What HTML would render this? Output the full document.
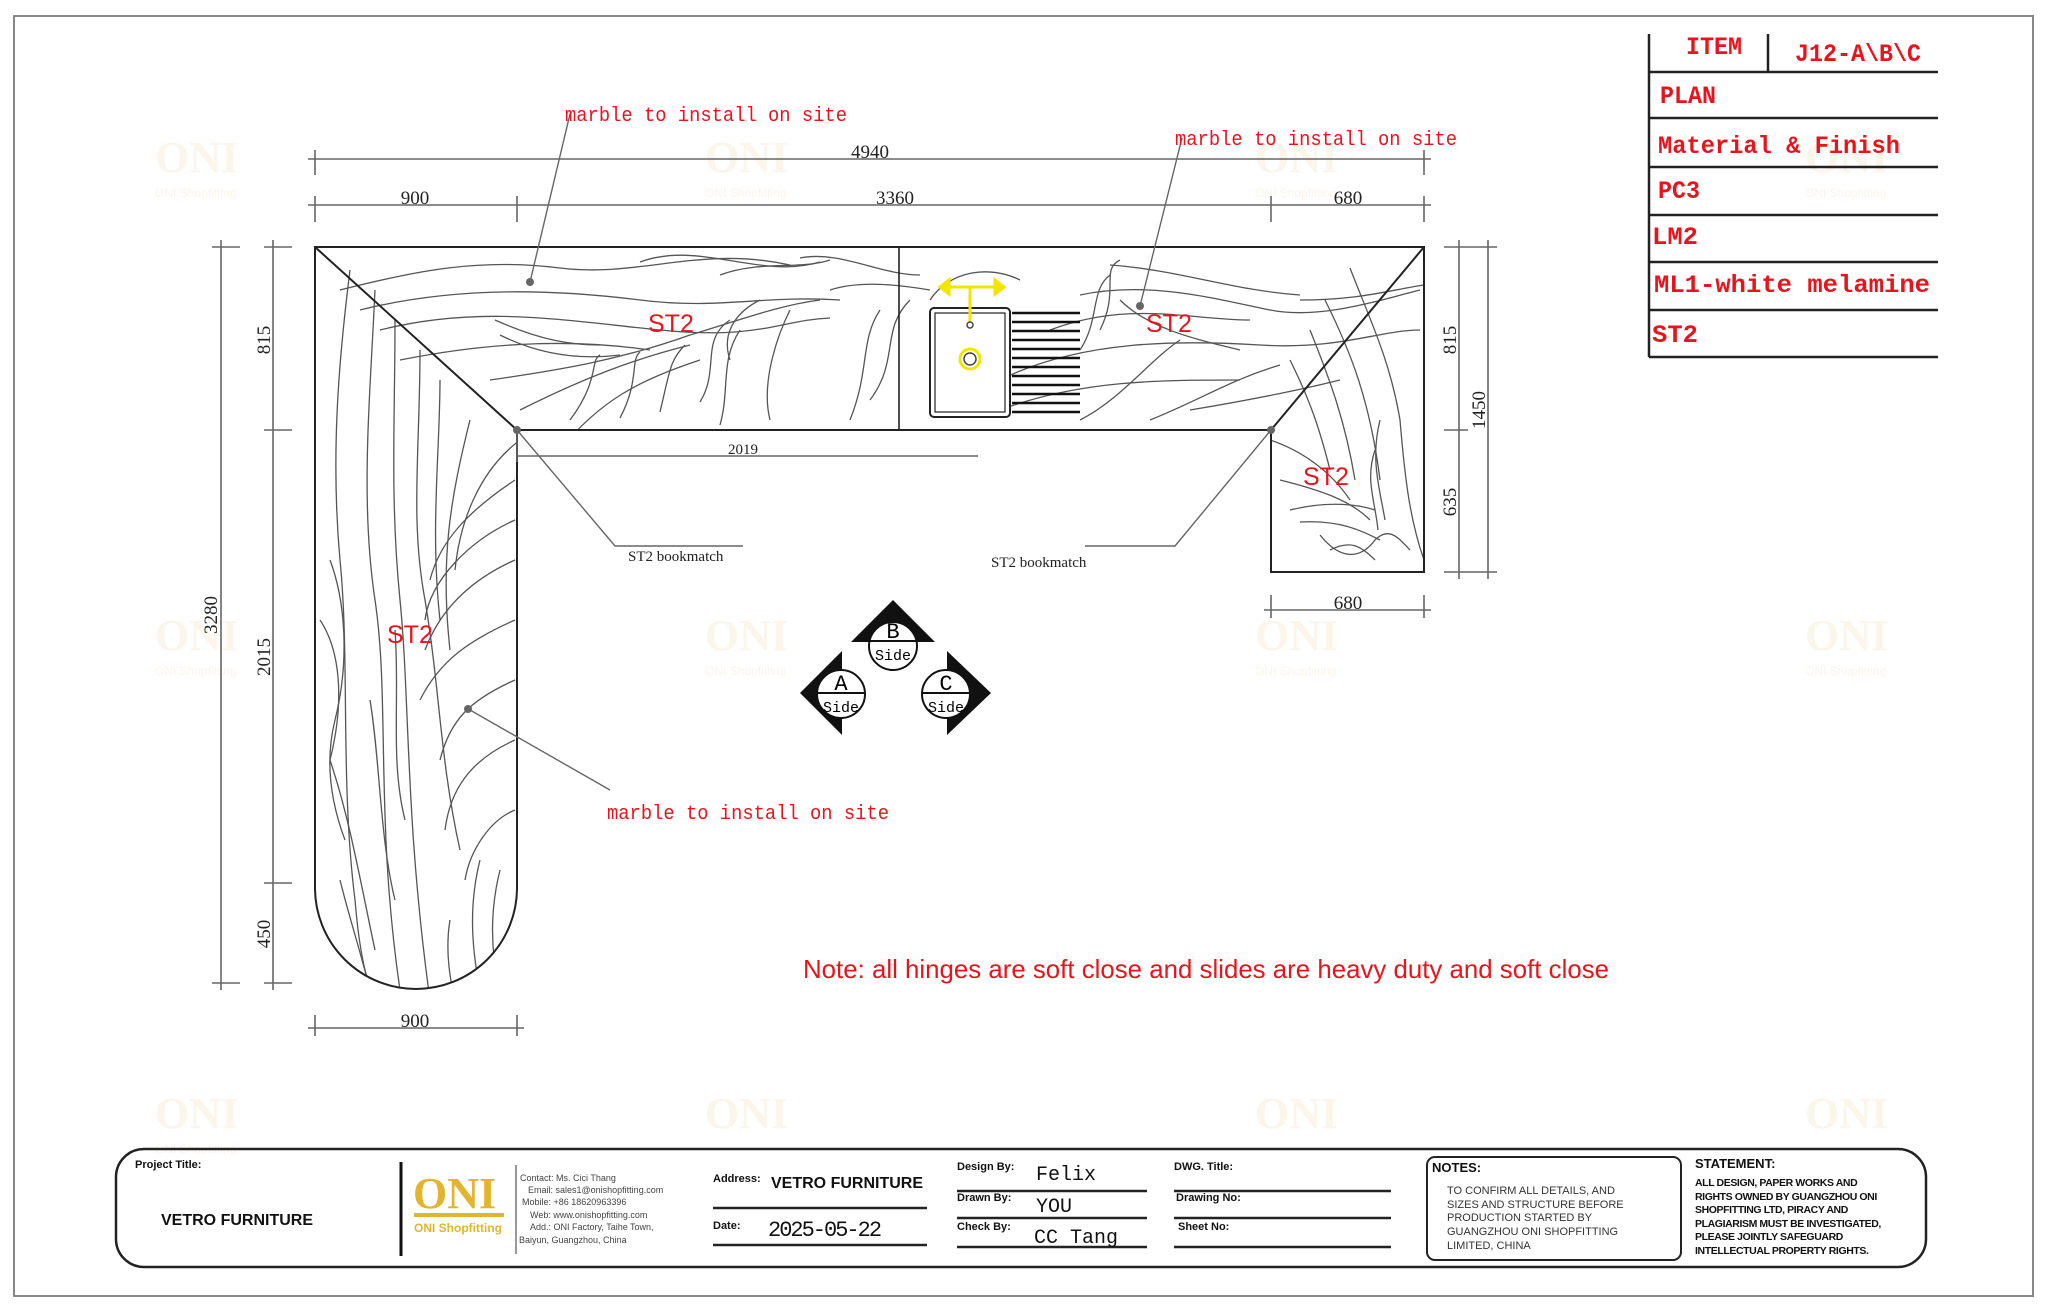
<!DOCTYPE html>
<html><head><meta charset="utf-8"><style>
html,body{margin:0;padding:0;background:#fff}
svg{display:block}
.d{font-family:"Liberation Serif",serif;font-size:19px;fill:#222}
.r{font-family:"Liberation Mono",monospace;fill:#e8141c}
.g{fill:none;stroke:#555;stroke-width:1.3}
.dl{stroke:#666;stroke-width:1.6;fill:none}
.wm{font-family:"Liberation Serif",serif;font-size:44px;font-weight:bold;fill:#fbf5ea}
.ws{font-family:"Liberation Sans",sans-serif;font-size:12px;fill:#fbf5ea}
.b{font-family:"Liberation Sans",sans-serif;font-weight:bold;fill:#111}
</style></head><body>
<svg width="2048" height="1311" viewBox="0 0 2048 1311" xmlns="http://www.w3.org/2000/svg">
<rect x="14" y="16" width="2019" height="1280" fill="none" stroke="#888" stroke-width="2"/>
<g>
<text class="wm" x="155" y="172">ONI</text><text class="ws" x="155" y="197">ONI Shopfitting</text>
<text class="wm" x="705" y="172">ONI</text><text class="ws" x="705" y="197">ONI Shopfitting</text>
<text class="wm" x="1255" y="172">ONI</text><text class="ws" x="1255" y="197">ONI Shopfitting</text>
<text class="wm" x="1805" y="172">ONI</text><text class="ws" x="1805" y="197">ONI Shopfitting</text>
<text class="wm" x="155" y="650">ONI</text><text class="ws" x="155" y="675">ONI Shopfitting</text>
<text class="wm" x="705" y="650">ONI</text><text class="ws" x="705" y="675">ONI Shopfitting</text>
<text class="wm" x="1255" y="650">ONI</text><text class="ws" x="1255" y="675">ONI Shopfitting</text>
<text class="wm" x="1805" y="650">ONI</text><text class="ws" x="1805" y="675">ONI Shopfitting</text>
<text class="wm" x="155" y="1128">ONI</text><text class="ws" x="155" y="1153">ONI Shopfitting</text>
<text class="wm" x="705" y="1128">ONI</text>
<text class="wm" x="1255" y="1128">ONI</text>
<text class="wm" x="1805" y="1128">ONI</text>
</g>
<defs>
<clipPath id="cp"><path d="M315,247 H1424 V572 H1271 V430 H517 V888 A101,101 0 0 1 315,888 Z"/></clipPath>
</defs>
<g clip-path="url(#cp)" class="g">
<path d="M340,290 C420,270 480,258 560,268 S700,245 790,265"/>
<path d="M360,310 C460,285 560,290 640,300 S760,295 840,300"/>
<path d="M380,330 C480,305 560,320 660,330 S780,320 830,318"/>
<path d="M400,360 C500,340 580,340 650,350"/>
<path d="M490,380 C560,370 620,360 690,335 C740,320 780,305 820,300"/>
<path d="M495,320 C540,340 570,345 600,345"/>
<path d="M500,335 C540,355 580,360 620,355"/>
<path d="M520,410 C580,380 630,360 690,345"/>
<path d="M560,450 C600,400 640,380 700,360"/>
<path d="M570,420 C600,380 590,360 600,355"/>
<path d="M620,418 C640,380 630,360 640,352"/>
<path d="M660,412 C670,370 670,360 685,345"/>
<path d="M800,258 C840,250 880,275 920,275"/>
<path d="M830,290 C860,280 900,285 930,290"/>
<path d="M850,420 C870,370 860,340 880,310"/>
<path d="M640,262 C700,240 760,280 820,262"/>
<path d="M720,275 C760,260 800,270 830,260"/>
<path d="M770,420 C760,380 780,330 790,310"/>
<path d="M720,425 C730,390 720,360 740,330"/>
<path d="M700,402 C720,370 700,340 730,320"/>
<path d="M730,360 C720,330 740,310 760,300"/>
<path d="M870,400 C900,360 880,330 910,300"/>
<path d="M1110,265 C1180,270 1230,290 1300,295"/>
<path d="M1080,295 C1150,280 1220,300 1270,310 S1380,300 1420,290"/>
<path d="M1050,330 C1130,300 1190,320 1250,320"/>
<path d="M1000,380 C1080,340 1180,340 1260,345 S1380,330 1420,330"/>
<path d="M1000,410 C1080,380 1160,380 1240,380"/>
<path d="M930,300 C950,270 990,265 1020,280"/>
<path d="M1080,420 C1120,400 1150,360 1180,340"/>
<path d="M1120,300 C1150,330 1200,340 1240,350"/>
<path d="M1100,330 C1120,290 1100,270 1120,260"/>
<path d="M1080,350 C1100,320 1090,290 1110,275"/>
<path d="M1150,420 C1200,400 1230,380 1280,365"/>
<path d="M1190,410 C1250,400 1300,390 1340,380"/>
<path d="M1300,300 C1360,300 1390,290 1424,285"/>
<path d="M1350,268 C1370,320 1390,360 1400,420 C1405,480 1410,520 1424,560"/>
<path d="M1325,300 C1350,350 1370,400 1380,480"/>
<path d="M1310,330 C1330,380 1345,420 1355,480"/>
<path d="M1290,360 C1310,400 1320,430 1330,470"/>
<path d="M1380,420 C1370,460 1380,490 1385,520"/>
<path d="M1375,450 C1365,480 1375,500 1378,530"/>
<path d="M1270,440 C1300,450 1330,470 1350,500"/>
<path d="M1280,480 C1320,490 1350,500 1370,520"/>
<path d="M1290,510 C1330,500 1360,505 1375,510"/>
<path d="M1300,522 C1340,520 1360,530 1380,540 M1320,535 C1340,560 1360,560 1375,540 C1390,525 1400,540 1410,550"/>
<path d="M1330,550 C1350,540 1360,545 1375,560"/>
<path d="M350,270 C340,350 330,450 340,560 C350,660 340,780 355,900 C360,960 370,1000 380,1000"/>
<path d="M375,290 C370,400 360,500 375,600 C390,700 375,820 400,990"/>
<path d="M395,320 C395,420 390,500 400,600 C410,700 405,820 430,1000"/>
<path d="M420,350 C420,450 410,520 425,600 C440,690 440,760 460,850"/>
<path d="M440,380 C440,450 430,530 440,620"/>
<path d="M470,420 C450,500 440,560 450,650"/>
<path d="M330,560 C345,600 350,660 335,720 C325,760 330,800 345,840"/>
<path d="M520,440 C480,470 460,520 455,570"/>
<path d="M515,480 C470,510 440,540 430,580"/>
<path d="M515,520 C470,540 430,580 425,620"/>
<path d="M515,560 C470,580 440,610 425,650"/>
<path d="M515,620 C470,640 440,660 420,700"/>
<path d="M515,680 C470,700 450,720 440,760"/>
<path d="M515,740 C470,760 450,790 445,830"/>
<path d="M515,810 C490,820 470,850 465,880"/>
<path d="M320,620 C340,650 345,700 330,760"/>
<path d="M395,630 C400,700 390,760 405,820"/>
<path d="M370,700 C380,760 380,840 395,900"/>
<path d="M330,760 C350,820 360,880 375,950"/>
<path d="M480,860 C470,900 470,940 480,990"/>
<path d="M500,870 C490,910 490,950 500,990"/>
<path d="M450,920 C445,950 450,980 455,1000"/>
<path d="M340,880 C350,920 360,950 370,990"/>
</g>
<path d="M315,247 H1424 V572 H1271 V430 H517 V888 A101,101 0 0 1 315,888 Z" fill="none" stroke="#222" stroke-width="2"/>
<line x1="315" y1="247" x2="517" y2="430" stroke="#222" stroke-width="2"/>
<line x1="1424" y1="247" x2="1271" y2="430" stroke="#222" stroke-width="2"/>
<line x1="899" y1="247" x2="899" y2="430" stroke="#222" stroke-width="1.6"/>
<rect x="930" y="308" width="80" height="109" rx="4" fill="#fff" stroke="#222" stroke-width="2"/>
<rect x="935" y="313" width="70" height="99" fill="none" stroke="#222" stroke-width="1.2"/>
<g stroke="#111" stroke-width="2.4">
<line x1="1012" y1="313" x2="1080" y2="313"/><line x1="1012" y1="322" x2="1080" y2="322"/><line x1="1012" y1="331" x2="1080" y2="331"/><line x1="1012" y1="340" x2="1080" y2="340"/><line x1="1012" y1="349" x2="1080" y2="349"/><line x1="1012" y1="358" x2="1080" y2="358"/><line x1="1012" y1="367" x2="1080" y2="367"/><line x1="1012" y1="376" x2="1080" y2="376"/><line x1="1012" y1="385" x2="1080" y2="385"/><line x1="1012" y1="394" x2="1080" y2="394"/><line x1="1012" y1="403" x2="1080" y2="403"/><line x1="1012" y1="412" x2="1080" y2="412"/>
</g>
<g stroke="#f2e600" stroke-width="3" fill="none">
<line x1="947" y1="287" x2="997" y2="287"/><line x1="970" y1="287" x2="970" y2="322"/>
<path d="M940,287 l9,-7 v14 z M1004,287 l-9,-7 v14 z" fill="#f2e600"/>
<circle cx="970" cy="359" r="10"/>
</g>
<circle cx="970" cy="325" r="3" fill="none" stroke="#444" stroke-width="1.5"/>
<circle cx="970" cy="359" r="6" fill="none" stroke="#444" stroke-width="1.5"/>
<g class="dl">
<line x1="308" y1="159" x2="1431" y2="159"/>
<line x1="315" y1="150" x2="315" y2="175"/><line x1="1424" y1="150" x2="1424" y2="175"/>
<line x1="308" y1="205" x2="1431" y2="205"/>
<line x1="315" y1="196" x2="315" y2="222"/><line x1="517" y1="196" x2="517" y2="222"/><line x1="1271" y1="196" x2="1271" y2="222"/><line x1="1424" y1="196" x2="1424" y2="222"/>
<line x1="221" y1="240" x2="221" y2="990"/>
<line x1="212" y1="247" x2="240" y2="247"/><line x1="212" y1="983" x2="240" y2="983"/>
<line x1="273" y1="240" x2="273" y2="990"/>
<line x1="264" y1="247" x2="292" y2="247"/><line x1="264" y1="430" x2="292" y2="430"/><line x1="264" y1="883" x2="292" y2="883"/><line x1="264" y1="983" x2="292" y2="983"/>
<line x1="1459" y1="240" x2="1459" y2="579"/><line x1="1488" y1="240" x2="1488" y2="579"/>
<line x1="1444" y1="247" x2="1497" y2="247"/><line x1="1444" y1="430" x2="1468" y2="430"/><line x1="1444" y1="572" x2="1497" y2="572"/>
<line x1="1264" y1="610" x2="1431" y2="610"/><line x1="1271" y1="595" x2="1271" y2="618"/><line x1="1424" y1="595" x2="1424" y2="618"/>
<line x1="308" y1="1028" x2="524" y2="1028"/><line x1="315" y1="1015" x2="315" y2="1036"/><line x1="517" y1="1015" x2="517" y2="1036"/>
<line x1="517" y1="456" x2="978" y2="456"/><line x1="517" y1="430" x2="517" y2="462"/>
</g>
<text class="d" x="870" y="158" text-anchor="middle">4940</text>
<text class="d" x="415" y="204" text-anchor="middle">900</text>
<text class="d" x="895" y="204" text-anchor="middle">3360</text>
<text class="d" x="1348" y="204" text-anchor="middle">680</text>
<text class="d" x="1348" y="609" text-anchor="middle">680</text>
<text class="d" x="415" y="1027" text-anchor="middle">900</text>
<text class="d" x="743" y="454" text-anchor="middle" style="font-size:15px">2019</text>
<text class="d" transform="translate(217,615) rotate(-90)" text-anchor="middle">3280</text>
<text class="d" transform="translate(270,340) rotate(-90)" text-anchor="middle">815</text>
<text class="d" transform="translate(270,657) rotate(-90)" text-anchor="middle">2015</text>
<text class="d" transform="translate(270,934) rotate(-90)" text-anchor="middle">450</text>
<text class="d" transform="translate(1456,340) rotate(-90)" text-anchor="middle">815</text>
<text class="d" transform="translate(1456,502) rotate(-90)" text-anchor="middle">635</text>
<text class="d" transform="translate(1485,410) rotate(-90)" text-anchor="middle">1450</text>
<g stroke="#666" stroke-width="1.4" fill="none">
<polyline points="570,114 530,282"/>
<polyline points="1182,138 1140,306"/>
<polyline points="610,790 470,710"/>
<polyline points="517,430 615,546 743,546"/>
<polyline points="1271,430 1175,546 1085,546"/>
</g>
<g fill="#666"><circle cx="530" cy="282" r="4"/><circle cx="1140" cy="306" r="4"/><circle cx="468" cy="709" r="4"/><circle cx="517" cy="430" r="4"/><circle cx="1271" cy="430" r="4"/></g>
<text class="r" x="565" y="121" style="font-size:20px" textLength="282" lengthAdjust="spacingAndGlyphs">marble to install on site</text>
<text class="r" x="1175" y="145" style="font-size:20px" textLength="282" lengthAdjust="spacingAndGlyphs">marble to install on site</text>
<text class="r" x="607" y="819" style="font-size:20px" textLength="282" lengthAdjust="spacingAndGlyphs">marble to install on site</text>
<text x="628" y="561" style="font-family:'Liberation Serif',serif;font-size:15px;fill:#222">ST2 bookmatch</text>
<text x="991" y="567" style="font-family:'Liberation Serif',serif;font-size:15px;fill:#222">ST2 bookmatch</text>
<g style="font-family:'Liberation Sans',sans-serif;font-size:25px;fill:#e8141c">
<text x="648" y="332">ST2</text><text x="1146" y="332">ST2</text><text x="1303" y="485">ST2</text><text x="387" y="643">ST2</text>
</g>
<text x="803" y="978" style="font-family:'Liberation Sans',sans-serif;font-size:26px;fill:#e8141c" textLength="806" lengthAdjust="spacingAndGlyphs">Note: all hinges are soft close and slides are heavy duty and soft close</text>
<g font-family="'Liberation Mono',monospace" text-anchor="middle">
<path d="M893,600 L935,642 L851,642 Z" fill="#111"/>
<circle cx="893" cy="646" r="24" fill="#fff" stroke="#111" stroke-width="2"/>
<line x1="869" y1="641" x2="917" y2="641" stroke="#111" stroke-width="2"/>
<text x="893" y="638" font-size="22">B</text><text x="893" y="660" font-size="15">Side</text>
<path d="M800,693 L842,651 L842,735 Z" fill="#111"/>
<circle cx="841" cy="694" r="24" fill="#fff" stroke="#111" stroke-width="2"/>
<line x1="817" y1="693" x2="865" y2="693" stroke="#111" stroke-width="2"/>
<text x="841" y="690" font-size="22">A</text><text x="841" y="712" font-size="15">Side</text>
<path d="M991,693 L947,651 L947,735 Z" fill="#111"/>
<circle cx="946" cy="694" r="24" fill="#fff" stroke="#111" stroke-width="2"/>
<line x1="922" y1="693" x2="970" y2="693" stroke="#111" stroke-width="2"/>
<text x="946" y="690" font-size="22">C</text><text x="946" y="712" font-size="15">Side</text>
</g>
<g stroke="#222" stroke-width="2.5">
<line x1="1649" y1="34" x2="1649" y2="357"/><line x1="1768" y1="34" x2="1768" y2="72"/>
<line x1="1649" y1="72" x2="1938" y2="72"/><line x1="1649" y1="118" x2="1938" y2="118"/><line x1="1649" y1="167" x2="1938" y2="167"/><line x1="1649" y1="215" x2="1938" y2="215"/><line x1="1649" y1="262" x2="1938" y2="262"/><line x1="1649" y1="310" x2="1938" y2="310"/><line x1="1649" y1="357" x2="1938" y2="357"/>
</g>
<g class="r" style="font-size:25px;font-weight:bold" lengthAdjust="spacingAndGlyphs">
<text x="1686" y="54" textLength="56" lengthAdjust="spacingAndGlyphs">ITEM</text>
<text x="1795" y="61" textLength="126" lengthAdjust="spacingAndGlyphs">J12-A\B\C</text>
<text x="1660" y="103" textLength="56" lengthAdjust="spacingAndGlyphs">PLAN</text>
<text x="1658" y="153" textLength="242" lengthAdjust="spacingAndGlyphs">Material &amp; Finish</text>
<text x="1658" y="198" textLength="42" lengthAdjust="spacingAndGlyphs">PC3</text>
<text x="1652" y="244" textLength="46" lengthAdjust="spacingAndGlyphs">LM2</text>
<text x="1654" y="292" textLength="276" lengthAdjust="spacingAndGlyphs">ML1-white melamine</text>
<text x="1652" y="342" textLength="46" lengthAdjust="spacingAndGlyphs">ST2</text>
</g>
<rect x="116" y="1149" width="1810" height="118" rx="28" fill="none" stroke="#222" stroke-width="2.5"/>
<text class="b" x="135" y="1168" font-size="11">Project Title:</text>
<text class="b" x="161" y="1225" font-size="16">VETRO FURNITURE</text>
<line x1="401" y1="1162" x2="401" y2="1256" stroke="#111" stroke-width="3"/>
<text x="413" y="1208" style="font-family:'Liberation Serif',serif;font-weight:bold;font-size:44px;fill:#e3b52e">ONI</text>
<rect x="414" y="1213" width="90" height="4" fill="#e3b52e"/>
<text x="414" y="1232" style="font-family:'Liberation Sans',sans-serif;font-weight:bold;font-size:12px;fill:#e3b52e">ONI Shopfitting</text>
<line x1="516" y1="1165" x2="516" y2="1254" stroke="#555" stroke-width="1.2"/>
<g style="font-family:'Liberation Sans',sans-serif;font-size:9px;fill:#444">
<text x="520" y="1181">Contact: Ms. Cici Thang</text>
<text x="528" y="1193">Email: sales1@onishopfitting.com</text>
<text x="522" y="1205">Mobile: +86 18620963396</text>
<text x="530" y="1218">Web: www.onishopfitting.com</text>
<text x="530" y="1230">Add.: ONI Factory, Taihe Town,</text>
<text x="519" y="1243">Baiyun, Guangzhou, China</text>
</g>
<text class="b" x="713" y="1182" font-size="11">Address:</text>
<text class="b" x="771" y="1188" font-size="16">VETRO FURNITURE</text>
<line x1="713" y1="1208" x2="927" y2="1208" stroke="#222" stroke-width="2.5"/>
<text class="b" x="713" y="1229" font-size="11">Date:</text>
<text x="768" y="1236" style="font-family:'Liberation Mono',monospace;font-size:22px;fill:#111;letter-spacing:-2px">2025-05-22</text>
<line x1="713" y1="1245" x2="927" y2="1245" stroke="#222" stroke-width="2.5"/>
<g stroke="#222" stroke-width="2.5">
<line x1="957" y1="1191" x2="1147" y2="1191"/><line x1="957" y1="1218" x2="1147" y2="1218"/><line x1="957" y1="1247" x2="1147" y2="1247"/>
<line x1="1174" y1="1191" x2="1391" y2="1191"/><line x1="1174" y1="1218" x2="1391" y2="1218"/><line x1="1174" y1="1247" x2="1391" y2="1247"/>
</g>
<g class="b" font-size="11">
<text x="957" y="1170">Design By:</text><text x="957" y="1201">Drawn By:</text><text x="957" y="1230">Check By:</text>
<text x="1174" y="1170">DWG. Title:</text><text x="1176" y="1201">Drawing No:</text><text x="1178" y="1230">Sheet No:</text>
</g>
<g style="font-family:'Liberation Mono',monospace;font-size:20px;fill:#111">
<text x="1036" y="1180">Felix</text><text x="1036" y="1212">YOU</text><text x="1034" y="1243">CC Tang</text>
</g>
<rect x="1427" y="1157" width="254" height="103" rx="8" fill="none" stroke="#222" stroke-width="2"/>
<text class="b" x="1432" y="1172" font-size="13">NOTES:</text>
<g style="font-family:'Liberation Sans',sans-serif;font-size:11px;fill:#333">
<text x="1447" y="1194">TO CONFIRM ALL DETAILS, AND</text>
<text x="1447" y="1208">SIZES AND STRUCTURE BEFORE</text>
<text x="1447" y="1221">PRODUCTION STARTED BY</text>
<text x="1447" y="1235">GUANGZHOU ONI SHOPFITTING</text>
<text x="1447" y="1249">LIMITED, CHINA</text>
</g>
<text class="b" x="1695" y="1168" font-size="13">STATEMENT:</text>
<g class="b" font-size="10.5" style="letter-spacing:-0.4px">
<text x="1695" y="1186">ALL DESIGN, PAPER WORKS AND</text>
<text x="1695" y="1200">RIGHTS OWNED BY GUANGZHOU ONI</text>
<text x="1695" y="1213">SHOPFITTING LTD, PIRACY AND</text>
<text x="1695" y="1227">PLAGIARISM MUST BE INVESTIGATED,</text>
<text x="1695" y="1240">PLEASE JOINTLY SAFEGUARD</text>
<text x="1695" y="1254">INTELLECTUAL PROPERTY RIGHTS.</text>
</g>
</svg>
</body></html>
